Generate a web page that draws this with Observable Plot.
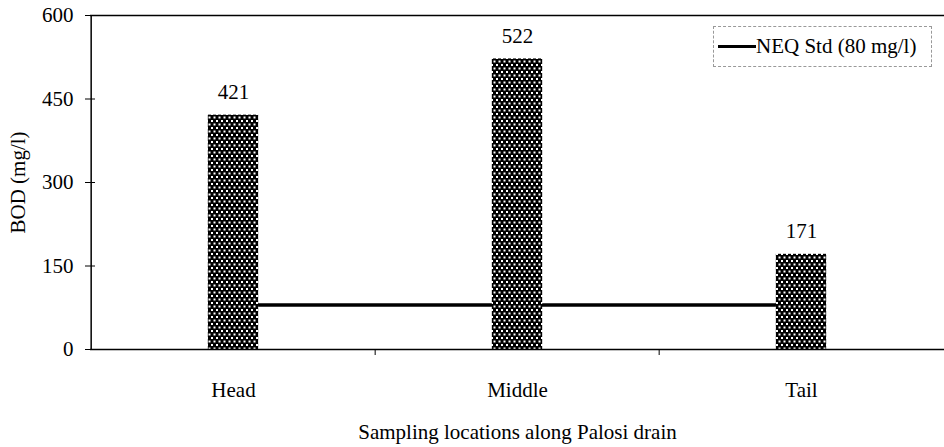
<!DOCTYPE html>
<html>
<head>
<meta charset="utf-8">
<script src="https://cdn.jsdelivr.net/npm/d3@7"></script>
<script src="https://cdn.jsdelivr.net/npm/@observablehq/plot@0.6"></script>
<style>
  html, body { margin: 0; padding: 0; background: #fff; }
  #wrap { position: relative; width: 944px; height: 447px; font-family: "Liberation Serif"; }
  #wrap svg, #wrap svg text { font-family: "Liberation Serif" !important; }
  #legend { position: absolute; left: 713px; top: 26px; width: 219px; height: 41px; border: 1px dashed #999;
            box-sizing: border-box; display: flex; align-items: center; font-size: 21px; color: #000;
            font-family: "Liberation Serif"; white-space: nowrap; }
  #legend .sw { width: 38px; height: 3px; background: #000; margin: 0 0 0 4px; }
</style>
</head>
<body>
<div id="wrap"></div>
<script>
const locations = ["Head", "Middle", "Tail"];
const bodValues = [421, 522, 171];
const standardValue = 80;
const standardLabel = "NEQ Std (80 mg/l)";
const yTicks = [0, 150, 300, 450, 600];
const yLabel = "BOD (mg/l)";
const xLabel = "Sampling locations along Palosi drain";

const data = locations.map((loc, i) => ({loc, bod: bodValues[i]}));
const stdLine = locations.map(loc => ({loc, v: standardValue}));

const W = 944, H = 447, ML = 90, MR = 0, MT = 15, MB = 98;
const step = (W - ML - MR) / locations.length;
const barW = 51;
const FS = 21;

const chart = Plot.plot({
  width: W, height: H,
  marginLeft: ML, marginRight: MR, marginTop: MT, marginBottom: MB,
  style: {fontFamily: "Liberation Serif", fontSize: FS + "px", color: "#000", background: "#fff"},
  x: {domain: locations, padding: 0, label: null},
  y: {domain: [0, 600], label: null},
  marks: [
    Plot.ruleY([600], {stroke: "#000", strokeWidth: 1.5}),
    Plot.lineY(stdLine, {x: "loc", y: "v", stroke: "#000", strokeWidth: 3.5}),
    Plot.barY(data, {x: "loc", y: "bod", fill: "url(#dots)", insetLeft: (step - barW) / 2, insetRight: (step - barW) / 2}),
    Plot.text(data, {x: "loc", y: "bod", text: d => String(d.bod), lineAnchor: "bottom", dy: -16, fontSize: FS, fill: "#000"}),
    Plot.ruleY([0], {stroke: "#000", strokeWidth: 1.5}),
    Plot.ruleX([0], {x: () => locations[0], dx: -step / 2, y1: 0, y2: 600, stroke: "#000", strokeWidth: 1.5}),
    Plot.ruleX(locations.slice(1), {x: d => d, dx: -step / 2, y1: 0, y2: 0, insetBottom: -6, insetTop: 0, stroke: "#000"}),
    Plot.axisY({ticks: yTicks, tickSize: 5, tickPadding: 12, fontSize: FS, label: null, stroke: "#000"}),
    Plot.axisY({ticks: yTicks, tickSize: 5, dx: 5, text: null, label: null, stroke: "#000"}),
    Plot.axisX({tickSize: 0, tickPadding: 33, fontSize: FS, label: null}),
    Plot.text([xLabel], {frameAnchor: "bottom", lineAnchor: "middle", dy: 83, text: d => d, fontSize: FS, fill: "#000"}),
    Plot.text([yLabel], {frameAnchor: "left", textAnchor: "middle", lineAnchor: "middle", dx: -72, rotate: -90, text: d => d, fontSize: FS, fill: "#000"})
  ]
});

// dotted pattern for bars
const ns = "http://www.w3.org/2000/svg";
const defs = document.createElementNS(ns, "defs");
defs.innerHTML = `<pattern id="dots" patternUnits="userSpaceOnUse" width="5" height="7">
  <rect width="5" height="7" fill="#000"/>
  <rect x="1" y="1" width="2" height="2" fill="#fff"/>
  <rect x="3.5" y="4.5" width="2" height="2" fill="#fff"/>
  <rect x="-1.5" y="4.5" width="2" height="2" fill="#fff"/>
</pattern>`;
chart.insertBefore(defs, chart.firstChild);

const wrap = document.getElementById("wrap");
wrap.appendChild(chart);
const lg = document.createElement("div");
lg.id = "legend";
lg.innerHTML = `<span class="sw"></span><span>${standardLabel}</span>`;
wrap.appendChild(lg);
</script>
</body>
</html>
